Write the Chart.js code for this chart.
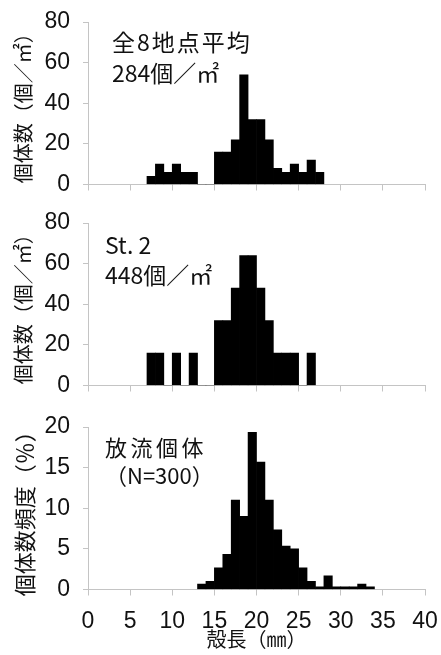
<!DOCTYPE html>
<html>
<head>
<meta charset="utf-8">
<script src="https://cdn.jsdelivr.net/npm/chart.js@4/dist/chart.umd.min.js"></script>
<style>
  html, body { margin: 0; padding: 0; background: #fff; overflow: hidden; }
  #wrap { position: relative; width: 441px; height: 655px; }
  canvas { position: absolute; left: 0; display: block; }
</style>
</head>
<body>
<div id="wrap">
  <canvas id="all8" width="441" height="200" style="top:0;width:441px;height:200px"></canvas>
  <canvas id="st2" width="441" height="200" style="top:200px;width:441px;height:200px"></canvas>
  <canvas id="release" width="441" height="255" style="top:400px;width:441px;height:255px"></canvas>
</div>
<script>
// Shell-length classes: lower edge (mm) of each 1 mm class
const lengthAll8 = [7, 8, 9, 10, 11, 12, 13, 14, 15, 16, 17, 18, 19, 20, 21, 22, 23, 24, 25, 26, 27];
// Mean density over all 8 stations (individuals per m²)
const densityAll8 = [4, 10, 6, 10, 6, 6, 0, 0, 16, 16, 22, 54, 32, 32, 22, 8, 6, 10, 6, 12, 6];

const lengthSt2 = [7, 8, 9, 10, 11, 12, 13, 14, 15, 16, 17, 18, 19, 20, 21, 22, 23, 24, 25, 26];
// Density at St. 2 (individuals per m²)
const densitySt2 = [16, 16, 0, 16, 0, 16, 0, 0, 32, 32, 48, 64, 64, 48, 32, 16, 16, 16, 0, 16];

const lengthRelease = [13, 14, 15, 16, 17, 18, 19, 20, 21, 22, 23, 24, 25, 26, 27, 28, 29, 30, 31, 32, 33];
// Released individuals, frequency (%) of N = 300
const pctRelease = [0.67, 1.00, 2.67, 4.33, 11.00, 9.00, 19.33, 15.67, 11.00, 7.33, 5.33, 5.00, 2.67, 1.00, 0.33, 1.67, 0.33, 0.33, 0.33, 0.67, 0.33];

// Tick labels
const xTicks = [0, 5, 10, 15, 20, 25, 30, 35, 40];
const yTicksDensity = [0, 20, 40, 60, 80];
const yTicksPct = [0, 5, 10, 15, 20];

const axisGray = '#c4c4c4';
const textColor = '#111';
const numFont = '"Liberation Sans Narrow", "Liberation Sans", Arial, sans-serif';
const jpFont = '"Noto Sans CJK JP", "Noto Sans", sans-serif';

// Text block drawn inside the plot area (station name, density, sample size)
function panelNote(lines) {
  return {
    id: 'panelNote',
    afterDatasetsDraw(chart) {
      const { ctx, chartArea } = chart;
      ctx.save();
      ctx.fillStyle = textColor;
      ctx.textAlign = 'left';
      ctx.textBaseline = 'middle';
      lines.forEach(l => {
        ctx.font = l.font;
        ctx.letterSpacing = (l.spacing || 0) + 'px';
        ctx.fillText(l.text, chartArea.left + l.dx, chartArea.top + l.dy);
      });
      ctx.restore();
    }
  };
}

function histogram(canvasId, edges, values, cfg) {
  const points = edges.map((e, i) => ({ x: e + 0.5, y: values[i] }));
  return new Chart(document.getElementById(canvasId), {
    type: 'bar',
    data: {
      datasets: [{
        data: points,
        backgroundColor: '#000',
        borderWidth: 0,
        barPercentage: 1,
        categoryPercentage: 1
      }]
    },
    options: {
      responsive: false,
      maintainAspectRatio: false,
      devicePixelRatio: 1,
      animation: false,
      layout: { padding: { top: cfg.top, right: 16, bottom: 0, left: 0 } },
      plugins: { legend: { display: false }, tooltip: { enabled: false } },
      scales: {
        x: {
          type: 'linear',
          min: 0,
          max: 40,
          offset: false,
          afterBuildTicks: s => { s.ticks = xTicks.map(v => ({ value: v })); },
          // fixed axis band; end labels may overhang the plot edges
          afterFit: s => { s.height = cfg.xHeight; s.paddingLeft = 0; s.paddingRight = 0; },
          grid: { display: true, drawOnChartArea: false, drawTicks: true, tickLength: 6, color: axisGray, offset: false },
          border: { display: true, color: axisGray, width: 1 },
          ticks: {
            display: cfg.xLabels,
            autoSkip: false,
            maxRotation: 0,
            padding: 12,
            color: textColor,
            font: { family: numFont, size: 23 }
          },
          title: {
            display: cfg.xLabels,
            text: '殻長（㎜）',
            color: textColor,
            font: { family: jpFont, size: 20 },
            padding: { top: 0, bottom: 4 }
          }
        },
        y: {
          min: 0,
          max: cfg.yMax,
          afterBuildTicks: s => { s.ticks = cfg.yTicks.map(v => ({ value: v })); },
          afterFit: s => { s.width = 88; s.paddingTop = 0; s.paddingBottom = 0; },
          grid: { display: true, drawOnChartArea: false, drawTicks: true, tickLength: 5, color: axisGray },
          border: { display: true, color: axisGray, width: 1 },
          ticks: {
            padding: 13,
            color: textColor,
            font: { family: numFont, size: 23 }
          },
          title: {
            display: true,
            text: cfg.yTitle,
            color: textColor,
            font: { family: jpFont, size: cfg.yTitleSize },
            padding: { top: 11, bottom: 0 }
          }
        }
      }
    },
    plugins: [panelNote(cfg.notes)]
  });
}

histogram('all8', lengthAll8, densityAll8, {
  top: 22, xHeight: 15.5, xLabels: false, yMax: 80, yTicks: yTicksDensity,
  yTitle: '個体数（個／㎡）', yTitleSize: 20,
  notes: [
    { text: '全8地点平均', dx: 24, dy: 20, font: '23px ' + jpFont, spacing: 2 },
    { text: '284個／㎡', dx: 24, dy: 51, font: '23px ' + jpFont }
  ]
});

histogram('st2', lengthSt2, densitySt2, {
  top: 23, xHeight: 14.5, xLabels: false, yMax: 80, yTicks: yTicksDensity,
  yTitle: '個体数（個／㎡）', yTitleSize: 20,
  notes: [
    { text: 'St. 2', dx: 17, dy: 22, font: '23px ' + jpFont },
    { text: '448個／㎡', dx: 17, dy: 52, font: '23px ' + jpFont }
  ]
});

histogram('release', lengthRelease, pctRelease, {
  top: 27, xHeight: 65.5, xLabels: true, yMax: 20, yTicks: yTicksPct,
  yTitle: '個体数頻度（％）', yTitleSize: 22,
  notes: [
    { text: '放流個体', dx: 17, dy: 21, font: '22px ' + jpFont, spacing: 3.5 },
    { text: '（N=300）', dx: 17, dy: 49, font: '22px ' + jpFont }
  ]
});
</script>
</body>
</html>
